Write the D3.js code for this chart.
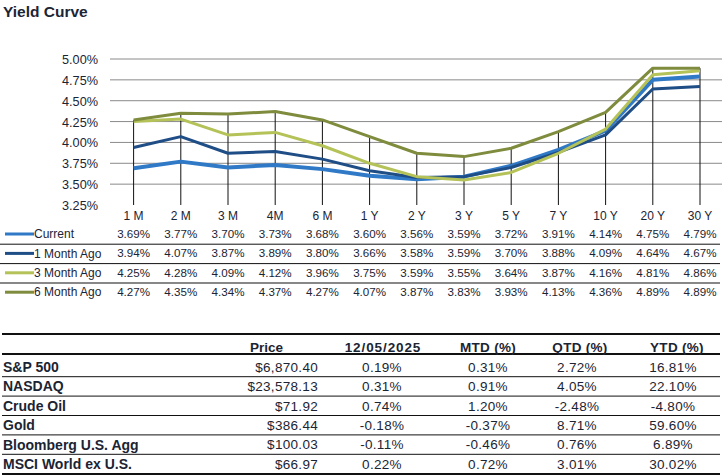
<!DOCTYPE html>
<html>
<head>
<meta charset="utf-8">
<script src="https://cdn.jsdelivr.net/npm/d3@7"></script>
<style>
  html, body { margin: 0; padding: 0; background: #fff; }
  svg { display: block; font-family: "Liberation Sans", Arial, sans-serif; }
</style>
</head>
<body>
<svg id="chart" width="722" height="475"></svg>
<script>
const categories = ["1 M","2 M","3 M","4M","6 M","1 Y","2 Y","3 Y","5 Y","7 Y","10 Y","20 Y","30 Y"];
const seriesNames = ["Current","1 Month Ago","3 Month Ago","6 Month Ago"];
const current  = [3.69,3.77,3.70,3.73,3.68,3.60,3.56,3.59,3.72,3.91,4.14,4.75,4.79];
const month1   = [3.94,4.07,3.87,3.89,3.80,3.66,3.58,3.59,3.70,3.88,4.09,4.64,4.67];
const month3   = [4.25,4.28,4.09,4.12,3.96,3.75,3.59,3.55,3.64,3.87,4.16,4.81,4.86];
const month6   = [4.27,4.35,4.34,4.37,4.27,4.07,3.87,3.83,3.93,4.13,4.36,4.89,4.89];
const yTicks   = [3.25,3.50,3.75,4.00,4.25,4.50,4.75,5.00];
const seriesColors = ["#2f79c7","#1f4d86","#b4c258","#7f8b3d"];
const seriesWidths = [4,3,3,3];

const assets = ["S&P 500","NASDAQ","Crude Oil","Gold","Bloomberg U.S. Agg","MSCI World ex U.S."];
const tableHeaders = ["Price","12/05/2025","MTD (%)","QTD (%)","YTD (%)"];
const price = ["$6,870.40","$23,578.13","$71.92","$386.44","$100.03","$66.97"];
const daily = ["0.19%","0.31%","0.74%","-0.18%","-0.11%","0.22%"];
const mtd   = ["0.31%","0.91%","1.20%","-0.37%","-0.46%","0.72%"];
const qtd   = ["2.72%","4.05%","-2.48%","8.71%","0.76%","3.01%"];
const ytd   = ["16.81%","22.10%","-4.80%","59.60%","6.89%","30.02%"];

const allSeries = [current, month1, month3, month6];
const svg = d3.select("#chart");
const textColor = "#1b2433";

// Title
svg.append("text").attr("x", 3).attr("y", 17)
  .attr("font-size", 15.5).attr("font-weight", "bold").attr("fill", "#1b2535")
  .text("Yield Curve");

// Scales
const x = d3.scaleBand().domain(categories).range([110, 723.6]).padding(0);
const cx = c => x(c) + x.bandwidth() / 2;
const y = d3.scaleLinear().domain([3.25, 5.00]).range([205, 59]);

// Gridlines
svg.append("g").selectAll("line").data(yTicks.filter(t => t > 3.25)).join("line")
  .attr("x1", 110).attr("x2", 722)
  .attr("y1", d => y(d)).attr("y2", d => y(d))
  .attr("stroke", "#8a8a8a").attr("stroke-width", 1);

// Y axis labels
const yAxis = d3.axisLeft(y).tickValues(yTicks).tickFormat(d => d.toFixed(2) + "%").tickSize(0).tickPadding(0);
const yg = svg.append("g").attr("transform", "translate(98,0)").call(yAxis);
yg.select(".domain").remove();
yg.selectAll("text").attr("font-size", 12.7).attr("fill", textColor)
  .attr("font-family", "Liberation Sans, Arial, sans-serif").attr("dy", "0.35em");

// Drop lines from max value to bottom
svg.append("g").selectAll("line").data(categories).join("line")
  .attr("x1", d => cx(d)).attr("x2", d => cx(d))
  .attr("y1", (d, i) => y(d3.max(allSeries, s => s[i])))
  .attr("y2", y(3.25))
  .attr("stroke", "#111").attr("stroke-width", 1);

// Lines
const line = d3.line().x((d, i) => cx(categories[i])).y(d => y(d));
svg.append("g").selectAll("path").data(allSeries).join("path")
  .attr("d", d => line(d))
  .attr("fill", "none")
  .attr("stroke", (d, i) => seriesColors[i])
  .attr("stroke-width", (d, i) => seriesWidths[i])
  .attr("stroke-linejoin", "round");

// X axis labels
const xAxis = d3.axisBottom(x).tickSize(0).tickPadding(0);
const xg = svg.append("g").attr("transform", "translate(0,211)").call(xAxis);
xg.select(".domain").remove();
xg.selectAll("text").attr("font-size", 12).attr("fill", textColor)
  .attr("font-family", "Liberation Sans, Arial, sans-serif").attr("dy", "0.71em");

// Legend data table
const rowY0 = 234, rowH = 19.4;
const leg = svg.append("g");
seriesNames.forEach((name, si) => {
  const ry = rowY0 + si * rowH;
  leg.append("line").attr("x1", 5).attr("x2", 34).attr("y1", ry).attr("y2", ry)
    .attr("stroke", seriesColors[si]).attr("stroke-width", 3);
  leg.append("text").attr("x", 34).attr("y", ry).attr("dy", "0.35em")
    .attr("font-size", 12).attr("fill", textColor).text(name);
  leg.append("g").selectAll("text").data(allSeries[si]).join("text")
    .attr("x", (d, i) => cx(categories[i])).attr("y", ry).attr("dy", "0.35em")
    .attr("text-anchor", "middle").attr("font-size", 11.6).attr("fill", textColor)
    .text(d => d.toFixed(2) + "%");
  if (si < seriesNames.length - 1) {
    leg.append("line").attr("x1", 0).attr("x2", 720)
      .attr("y1", ry + rowH / 2 + 0.5).attr("y2", ry + rowH / 2 + 0.5)
      .attr("stroke", "#111").attr("stroke-width", 1);
  }
});

// Bottom table
const tbl = svg.append("g");
const tTop = 334, headY = 347, hLine = 354, r0 = 367, rh = 19.4;
tbl.append("line").attr("x1", 2).attr("x2", 720).attr("y1", tTop).attr("y2", tTop)
  .attr("stroke", "#111").attr("stroke-width", 2.2);
tbl.append("line").attr("x1", 2).attr("x2", 720).attr("y1", hLine).attr("y2", hLine)
  .attr("stroke", "#111").attr("stroke-width", 2.2);

const headerPos = [
  {x: 250, anchor: "start", ls: 0},
  {x: 383, anchor: "middle", ls: 0.9},
  {x: 488, anchor: "middle", ls: 0.3},
  {x: 580, anchor: "middle", ls: 0.3},
  {x: 677, anchor: "middle", ls: 0.3}
];
tableHeaders.forEach((h, i) => {
  tbl.append("text").attr("x", headerPos[i].x).attr("y", headY).attr("dy", "0.35em")
    .attr("text-anchor", headerPos[i].anchor).attr("font-size", 13.5).attr("font-weight", "bold")
    .attr("letter-spacing", headerPos[i].ls).attr("fill", textColor).text(h);
});

const cols = [
  {data: price, x: 318, anchor: "end"},
  {data: daily, x: 382, anchor: "middle"},
  {data: mtd, x: 488, anchor: "middle"},
  {data: qtd, x: 577, anchor: "middle"},
  {data: ytd, x: 673, anchor: "middle"}
];
assets.forEach((a, ri) => {
  const ry = r0 + ri * rh;
  tbl.append("text").attr("x", 3).attr("y", ry).attr("dy", "0.35em")
    .attr("font-size", 14).attr("font-weight", "bold").attr("fill", textColor).text(a);
  cols.forEach(c => {
    tbl.append("text").attr("x", c.x).attr("y", ry).attr("dy", "0.35em")
      .attr("text-anchor", c.anchor).attr("font-size", 13.5).attr("letter-spacing", 0.3)
      .attr("fill", textColor).text(c.data[ri]);
  });
  const ly = ry + rh / 2;
  const last = ri === assets.length - 1;
  tbl.append("line").attr("x1", 2).attr("x2", 720)
    .attr("y1", last ? ly + 0.5 : ly).attr("y2", last ? ly + 0.5 : ly)
    .attr("stroke", "#111").attr("stroke-width", last ? 2.2 : 1);
});
</script>
</body>
</html>
